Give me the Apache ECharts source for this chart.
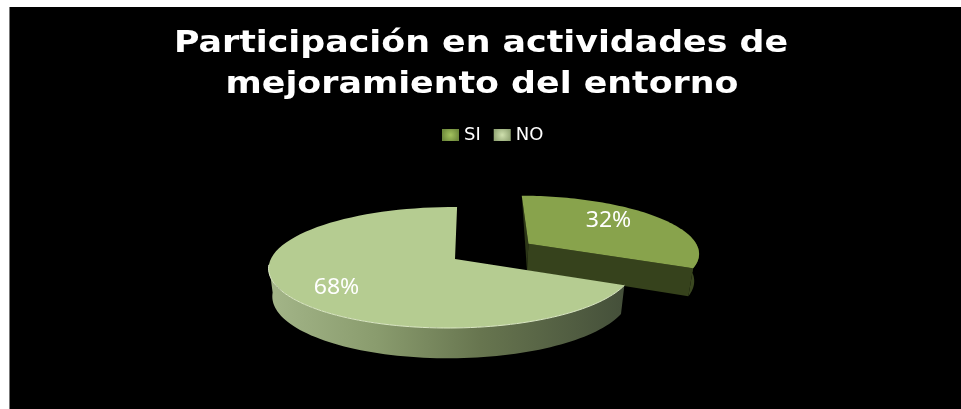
<!DOCTYPE html>
<html>
<head>
<meta charset="utf-8">
<title>Participación en actividades de mejoramiento del entorno</title>
<script src="https://cdn.jsdelivr.net/npm/echarts@6/dist/echarts.min.js"></script>
<style>
html, body { margin: 0; padding: 0; background: #fff; }
#chart { width: 961px; height: 409px; }
</style>
</head>
<body>
<div id="chart"></div>
<script>
var categories = ['SI', 'NO'];
var percentValues = [32, 68];
var titleLines = ['Participación en actividades de', 'mejoramiento del entorno'];

var total = percentValues[0] + percentValues[1];

// perspective of the tilted disc
var CX = 455, CY = 259, RX = 180.5, RY = 59.3, K = 0.1405, M = 0.02, SHEAR = 0.04;
var DEPTH = 27.5, BOTTOM_SCALE = 0.98;
var EXPLODE = 0.5;

function project(u, v, bottom) {
	var w = 1 + K * v + M * u;
	var x = RX * u / w;
	var y = -RY * v / w;
	x = x - SHEAR * y;
	if (bottom) {
		x = x * BOTTOM_SCALE;
		y = y + DEPTH * (1 - 0.1 * v);
	}
	return [CX + x, CY + y];
}

// angles are clockwise from the top of the disc
function rimPoint(a, off, bottom) {
	return project(off[0] + Math.sin(a), off[1] + Math.cos(a), bottom);
}

function arc(a0, a1, off, bottom) {
	var pts = [];
	var n = 80;
	for (var i = 0; i <= n; i++) {
		pts.push(rimPoint(a0 + (a1 - a0) * i / n, off, bottom));
	}
	return pts;
}

function label(value, a0, a1, off, r, dy, xScale) {
	var mid = (a0 + a1) / 2;
	var p = project(off[0] + r * Math.sin(mid), off[1] + r * Math.cos(mid));
	return {
		type: 'text',
		x: p[0],
		y: p[1] + dy,
		scaleX: xScale,
		z2: 10,
		style: {
			text: value + '%',
			fill: '#fff',
			font: '21px "Noto Sans"',
			align: 'center',
			verticalAlign: 'middle'
		}
	};
}

function renderSi(params, api) {
	var value = api.value(0);
	var a0 = 0, a1 = value / total * Math.PI * 2;
	var mid = (a0 + a1) / 2;
	var off = [EXPLODE * Math.sin(mid), EXPLODE * Math.cos(mid)];
	var apexTop = project(off[0], off[1]);
	var apexBottom = project(off[0], off[1], true);
	var topRim = arc(a0, a1, off);
	var endTop = rimPoint(a1, off), endBottom = rimPoint(a1, off, true);
	var startTop = rimPoint(a0, off);
	var wallArc = arc(Math.PI / 2 - 0.2, a1, off);
	var wallArcBottom = arc(Math.PI / 2 - 0.2, a1, off, true).reverse();
	return {
		type: 'group',
		children: [
			{ type: 'polygon', shape: { points: [apexTop, startTop, apexBottom] }, style: { fill: '#2c3617' } },
			{ type: 'polygon', shape: { points: wallArc.concat(wallArcBottom) }, style: { fill: '#3a4720' } },
			{ type: 'polygon', shape: { points: [apexTop, endTop, endBottom, apexBottom] }, style: { fill: '#36421c' } },
			{ type: 'polygon', shape: { points: [apexTop].concat(topRim) }, style: { fill: '#88a34c' } },
			label(value, a0, a1, off, 0.6, -6, 1.1)
		]
	};
}

function renderNo(params, api) {
	var value = api.value(0);
	var a0 = percentValues[0] / total * Math.PI * 2;
	var a1 = a0 + value / total * Math.PI * 2;
	var off = [0, 0];
	var apex = project(0, 0);
	var rim = arc(a0, a1, off);
	var frontEnd = Math.PI * 1.47;
	var wallTop = arc(a0, frontEnd, off);
	var wallBottom = arc(a0, frontEnd, off, true).reverse();
	return {
		type: 'group',
		children: [
			{
				type: 'polygon',
				shape: { points: wallTop.concat(wallBottom) },
				style: {
					fill: {
						type: 'linear', x: 270, y: 0, x2: 622, y2: 0, global: true,
						colorStops: [
							{ offset: 0, color: '#a3b588' },
							{ offset: 0.3, color: '#8a9c6e' },
							{ offset: 0.6, color: '#67754f' },
							{ offset: 1, color: '#45503a' }
						]
					}
				}
			},
			{ type: 'polygon', shape: { points: [apex].concat(rim) }, style: { fill: '#b5cc91' } },
			{ type: 'polyline', shape: { points: wallTop }, style: { fill: 'none', stroke: '#dbe8c4', lineWidth: 1 } },
			label(value, a0, a1, off, 0.72, 5, 1.1)
		]
	};
}

function titleText(line, x, y) {
	return {
		type: 'text',
		x: x,
		y: y,
		scaleX: 1.16,
		z: 10,
		style: {
			text: line,
			fill: '#fff',
			font: 'bold 30px "DejaVu Sans"',
			textAlign: 'center'
		}
	};
}

var chart = echarts.init(document.getElementById('chart'), null, { renderer: 'canvas' });
chart.setOption({
	backgroundColor: '#fff',
	animation: false,
	graphic: [
		{ type: 'rect', x: 9, y: 7, z: -10, shape: { width: 952, height: 402 }, style: { fill: '#000' } },
		{ type: 'rect', x: 9, y: 7, z: -9, shape: { width: 1, height: 402 }, style: { fill: '#777' } },
		titleText(titleLines[0], 481, 29),
		titleText(titleLines[1], 482, 70)
	],
	legend: {
		left: 437,
		top: 121,
		itemWidth: 17,
		itemHeight: 12,
		itemGap: 13,
		textStyle: { color: '#fff', fontFamily: 'DejaVu Sans', fontSize: 18 },
		data: [
			{
				name: categories[0],
				icon: 'rect',
				itemStyle: { color: { type: 'radial', x: 0.5, y: 0.5, r: 0.7, colorStops: [{ offset: 0, color: '#a4c35f' }, { offset: 1, color: '#6f8a3c' }] } }
			},
			{
				name: categories[1],
				icon: 'rect',
				itemStyle: { color: { type: 'radial', x: 0.5, y: 0.5, r: 0.7, colorStops: [{ offset: 0, color: '#cfe0ae' }, { offset: 1, color: '#95a877' }] } }
			}
		]
	},
	series: [
		{ type: 'custom', name: categories[0], coordinateSystem: 'none', renderItem: renderSi, data: [[percentValues[0]]], itemStyle: { color: '#88a34c' } },
		{ type: 'custom', name: categories[1], coordinateSystem: 'none', renderItem: renderNo, data: [[percentValues[1]]], itemStyle: { color: '#b5cc91' } }
	]
});
</script>
</body>
</html>
